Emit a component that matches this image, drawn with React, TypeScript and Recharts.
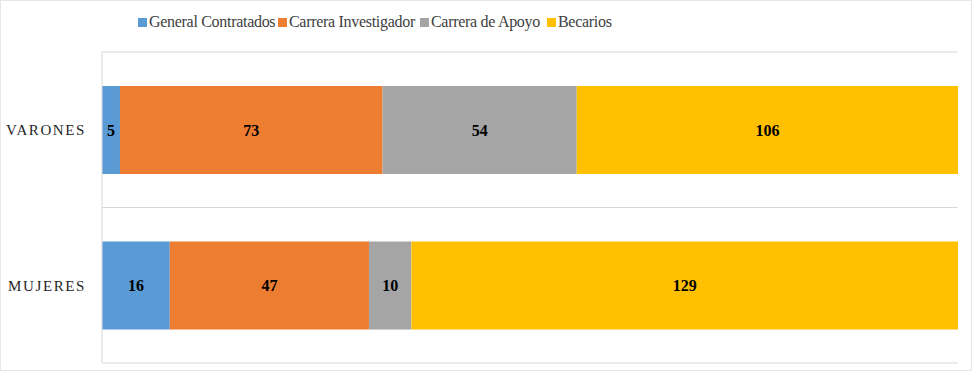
import { Bar, BarChart, CartesianGrid, LabelList, XAxis, YAxis } from "recharts";

const categories = ["VARONES", "MUJERES"];
const generalContratados = [5, 16];
const carreraInvestigador = [73, 47];
const carreraApoyo = [54, 10];
const becarios = [106, 129];

const seriesDefs = [
  { key: "general", name: "General Contratados", color: "#5B9BD5" },
  { key: "investigador", name: "Carrera Investigador", color: "#ED7D31" },
  { key: "apoyo", name: "Carrera de Apoyo", color: "#A5A5A5" },
  { key: "becarios", name: "Becarios", color: "#FFC000" },
];

// left edge of each legend swatch, as laid out in the original
const legendX = [137, 277, 419, 546];

const data = categories.map((name, i) => ({
  name,
  general: generalContratados[i],
  investigador: carreraInvestigador[i],
  apoyo: carreraApoyo[i],
  becarios: becarios[i],
}));

const FONT = "'Liberation Serif', 'DejaVu Serif', serif";

function ChartLegend() {
  return (
    <>
      {seriesDefs.map((s, i) => (
        <div
          key={s.key}
          style={{
            position: "absolute",
            left: legendX[i],
            top: 12,
            display: "flex",
            alignItems: "center",
            fontFamily: FONT,
            fontSize: 16,
            letterSpacing: -0.3,
            color: "#404040",
            whiteSpace: "nowrap",
          }}
        >
          <span style={{ width: 9, height: 9, background: s.color, display: "inline-block", marginRight: 2 }} />
          <span>{s.name}</span>
        </div>
      ))}
    </>
  );
}

export default function App() {
  return (
    <div
      style={{
        position: "absolute",
        left: 0,
        top: 0,
        width: 972,
        height: 371,
        boxSizing: "border-box",
        border: "1px solid #e6e6e6",
        background: "#fff",
      }}
    >
      <BarChart
        width={970}
        height={369}
        data={data}
        layout="vertical"
        stackOffset="expand"
        margin={{ top: 52, right: 12, bottom: 6, left: 0 }}
        style={{ position: "absolute", left: -1, top: -1 }}
      >
        <CartesianGrid
          vertical={false}
          stroke="#d9d9d9"
          horizontalCoordinatesGenerator={({ offset }: any) => [
            offset.top,
            offset.top + offset.height / 2,
            offset.top + offset.height,
          ]}
        />
        <XAxis type="number" domain={[0, 1]} hide />
        <YAxis
          type="category"
          dataKey="name"
          width={102}
          tickLine={false}
          axisLine={{ stroke: "#d9d9d9" }}
          tickMargin={10}
          tick={{ fontFamily: FONT, fontSize: 15, fill: "#262626", letterSpacing: 1.6 }}
        />
        {seriesDefs.map((s) => (
          <Bar key={s.key} dataKey={s.key} name={s.name} stackId="a" fill={s.color} barSize={88} isAnimationActive={false}>
            <LabelList
              dataKey={s.key}
              position="center"
              style={{ fontFamily: FONT, fontSize: 16, fontWeight: "bold", fill: "#000" }}
            />
          </Bar>
        ))}
      </BarChart>
      <ChartLegend />
    </div>
  );
}
